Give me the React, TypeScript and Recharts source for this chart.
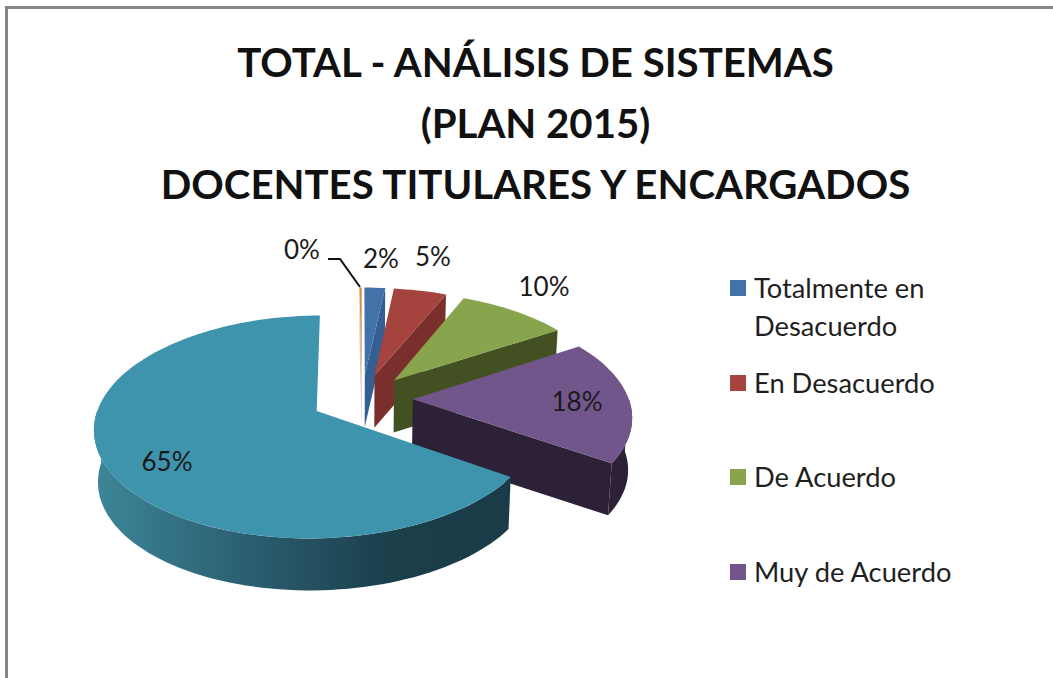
import { PieChart, Pie, Legend } from 'recharts';

const SLICE_NAMES = ['Totalmente en Desacuerdo', 'En Desacuerdo', 'De Acuerdo', 'Muy de Acuerdo', 'Otros', 'Sin respuesta'];
const SLICE_VALUES = [1.8, 4.6, 9.6, 18.4, 65.4, 0.2];
const FACE_COLORS = ['#4272A8', '#A5433F', '#88A44C', '#71568C', '#3F94AD', '#E08A3C'];
const WALL_COLORS = ['#355F92', '#7B2F2C', '#435122', '#2C2137', 'url(#tealWall)', '#CFC6BA'];
const TITLE_LINES = ['TOTAL - ANÁLISIS DE SISTEMAS', '(PLAN 2015)', 'DOCENTES TITULARES Y ENCARGADOS'];
const LEGEND_COUNT = 4;

const data = SLICE_NAMES.map((name, i) => ({
  name,
  value: SLICE_VALUES[i],
  fill: FACE_COLORS[i],
  wall: WALL_COLORS[i],
}));

const FONT = 'Lato, "Open Sans", sans-serif';
const W = 1053;
const H = 678;
const CX = 362;
const CY = 399;
const R = 216;

// fake 3d: unit disc seen in perspective
const TILT = 0.49;      // ry / rx
const PERSP = 0.14;
const EXPLODE = 0.235;
const DEPTH = 52;
const BASE_SCALE = 0.985;

// label anchor (px) per slice, same order as the data
const LABEL_XY = [
  [381, 268], [433, 266], [544, 296], [577, 411], [167, 471], [302, 259],
];

type Pt = [number, number];

function project(u: number, v: number, cx: number, cy: number, r: number, bottom = false): Pt {
  const w = 1 + PERSP * v;
  const x = (r * u) / w;
  const y = (r * TILT * v) / w;
  if (bottom) return [cx + x * BASE_SCALE, cy - y + DEPTH];
  return [cx + x, cy - y];
}

function toPath(pts: Pt[]) {
  return 'M' + pts.map((p) => `${p[0].toFixed(1)},${p[1].toFixed(1)}`).join('L') + 'Z';
}

function rad(d: number) {
  return (d * Math.PI) / 180;
}

function Slice3D(props: any) {
  const { cx, cy, outerRadius, startAngle, endAngle, fill, wall } = props;
  // recharts angles -> clockwise from 12 o'clock
  const a0 = 90 - startAngle;
  const a1 = 90 - endAngle;
  const mid = rad((a0 + a1) / 2);
  const ou = EXPLODE * Math.sin(mid);
  const ov = EXPLODE * Math.cos(mid);

  const rim = (deg: number, bottom = false) =>
    project(ou + Math.sin(rad(deg)), ov + Math.cos(rad(deg)), cx, cy, outerRadius, bottom);
  const apex = (bottom = false) => project(ou, ov, cx, cy, outerRadius, bottom);

  const arc = (from: number, to: number, bottom = false) => {
    const n = Math.max(2, Math.ceil(Math.abs(to - from) / 2));
    const pts: Pt[] = [];
    for (let i = 0; i <= n; i++) pts.push(rim(from + ((to - from) * i) / n, bottom));
    return pts;
  };

  const face = [apex(), ...arc(a0, a1)];
  const walls: string[] = [];
  // cut faces, only the ones turned to the viewer
  if (Math.sin(rad(a1)) > 0.001) walls.push(toPath([apex(), rim(a1), rim(a1, true), apex(true)]));
  if (Math.sin(rad(a0)) < -0.001) walls.push(toPath([apex(), rim(a0), rim(a0, true), apex(true)]));

  const frontFrom = Math.max(a0, 90);
  const frontTo = Math.min(a1, 270);
  return (
    <g>
      {walls.map((d, i) => <path key={i} d={d} fill={wall} />)}
      {frontTo > frontFrom && (
        <path d={toPath([...arc(frontFrom, frontTo), ...arc(frontFrom, frontTo, true).reverse()])} fill={wall} />
      )}
      <path d={toPath(face)} fill={fill} />
    </g>
  );
}

function SliceLabel(props: any) {
  const { index, value } = props;
  const [x, y] = LABEL_XY[index];
  return (
    <g>
      <text x={x} y={y} textAnchor="middle" fontFamily={FONT} fontSize={26} fill="#1a1a1a">
        {`${Math.round(value)}%`}
      </text>
      {index === 5 && <path d="M328,259H340L360,287" fill="none" stroke="#111" strokeWidth={2} />}
    </g>
  );
}

function LegendBox(props: any) {
  const items = (props.payload || []).slice(0, LEGEND_COUNT);
  return (
    <div style={{ fontFamily: FONT, fontSize: 27.3, lineHeight: '38px', color: '#1f1f1f' }}>
      {items.map((it: any) => (
        <div key={it.value} style={{ height: 94.5, display: 'flex', alignItems: 'flex-start' }}>
          <span style={{ width: 16, height: 16, marginTop: 11, marginRight: 8, flex: 'none', background: it.color }} />
          <span style={{ width: 210 }}>{it.value}</span>
        </div>
      ))}
    </div>
  );
}

export default function App() {
  return (
    <div style={{ position: 'fixed', left: 0, top: 0, width: W, height: H, overflow: 'hidden', background: '#fff' }}>
      <div style={{ position: 'absolute', left: 5, top: 6, width: W, height: H, borderLeft: '3px solid #868686', borderTop: '3px solid #868686' }} />
      <div style={{ position: 'absolute', left: 0, top: 0 }}>
        <PieChart width={W} height={H} margin={{ top: 0, right: 0, bottom: 0, left: 0 }}>
          <defs>
            <linearGradient id="tealWall" x1="0" y1="0" x2="1" y2="0">
              <stop offset="0" stopColor="#3D8699" />
              <stop offset="0.3" stopColor="#2E6678" />
              <stop offset="0.7" stopColor="#1C3F4C" />
              <stop offset="1" stopColor="#1A3B47" />
            </linearGradient>
          </defs>
          <text textAnchor="middle" fontFamily={FONT} fontWeight={700} fontSize={40.2} fill="#111">
            {TITLE_LINES.map((line, i) => (
              <tspan key={line} x={535.5} y={77 + i * 61}>{line}</tspan>
            ))}
          </text>
          <Pie
            data={data}
            dataKey="value"
            nameKey="name"
            cx={CX}
            cy={CY}
            outerRadius={R}
            startAngle={90}
            endAngle={-270}
            stroke="none"
            shape={Slice3D}
            label={SliceLabel}
            labelLine={false}
            isAnimationActive={false}
          />
          <Legend
            layout="vertical"
            verticalAlign="middle"
            align="right"
            itemSorter={null}
            content={LegendBox}
            wrapperStyle={{ left: 730, top: 269, right: 'auto', width: 240 }}
          />
        </PieChart>
      </div>
    </div>
  );
}
